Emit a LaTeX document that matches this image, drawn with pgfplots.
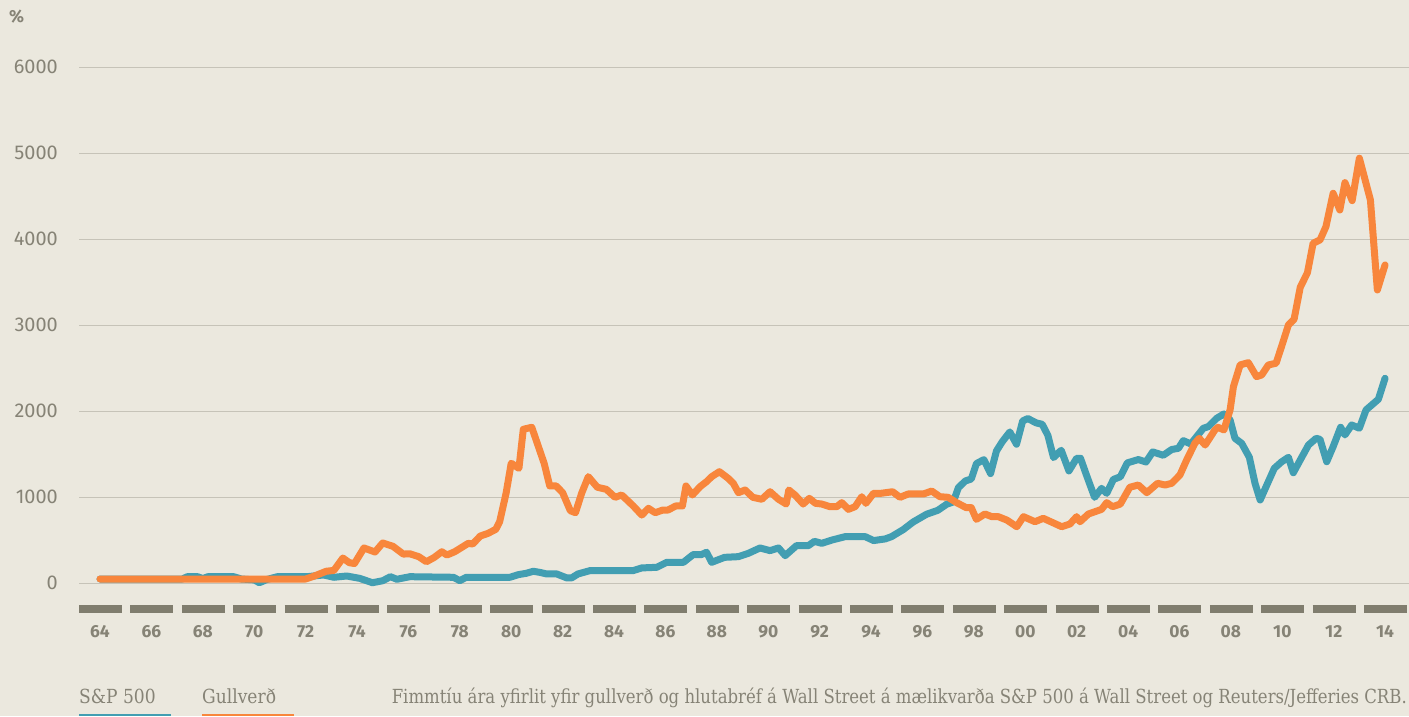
\documentclass[border=0pt]{standalone}
\usepackage{fontspec}
\usepackage{graphicx}
\usepackage{pgfplots}
\pgfplotsset{compat=1.18}
\newfontfamily\tickfont{Fira Sans}
\newfontfamily\slab{DejaVu Serif}
\definecolor{bgc}{RGB}{235,232,222}
\definecolor{gridc}{RGB}{198,195,184}
\definecolor{dashc}{RGB}{128,125,110}
\definecolor{tickc}{RGB}{134,131,118}
\definecolor{tealc}{RGB}{66,158,178}
\definecolor{orangec}{RGB}{248,134,60}

\pgfplotstableread{
x y
1964.0 50
1965 50
1966 50
1967 50
1968 50
1969 50
1970 50
1971 50
1972.0 50
1972.3 80
1972.8 140
1973.1 150
1973.45 294
1973.7 240
1973.9 230
1974.27 411
1974.7 364
1975.0 469
1975.4 430
1975.8 340
1976.06 343
1976.4 310
1976.7 251
1977.0 300
1977.3 367
1977.5 329
1977.8 367
1978.33 465
1978.5 457
1978.8 550
1979.1 581
1979.4 628
1979.55 716
1979.8 1047
1980.0 1396
1980.3 1337
1980.47 1791
1980.8 1814
1981.28 1396
1981.5 1132
1981.75 1132
1982.0 1054
1982.3 844
1982.5 821
1982.74 1047
1983.0 1240
1983.35 1117
1983.7 1093
1984.04 1000
1984.3 1027
1984.75 899
1985.08 794
1985.34 872
1985.6 821
1985.9 852
1986.1 852
1986.4 899
1986.66 899
1986.8 1132
1987.05 1027
1987.35 1124
1987.6 1182
1987.8 1240
1988.1 1298
1988.44 1221
1988.64 1163
1988.84 1054
1989.1 1085
1989.4 1000
1989.75 977
1990.07 1065
1990.4 977
1990.7 922
1990.8 1085
1991.04 1027
1991.36 922
1991.6 988
1991.84 930
1992.08 922
1992.4 891
1992.67 891
1992.86 938
1993.12 860
1993.38 891
1993.64 1007
1993.8 930
1994.1 1047
1994.4 1047
1994.84 1065
1995.13 1000
1995.45 1039
1996.04 1039
1996.36 1073
1996.68 1007
1997.0 1000
1997.33 938
1997.7 880
1997.9 880
1998.1 744
1998.43 806
1998.7 775
1998.95 775
1999.28 736
1999.67 658
1999.93 775
2000.38 716
2000.7 756
2001.42 658
2001.74 690
2002.0 775
2002.13 716
2002.46 806
2002.97 860
2003.17 938
2003.4 891
2003.7 922
2004.07 1117
2004.4 1143
2004.73 1054
2005.15 1163
2005.44 1143
2005.7 1163
2006.02 1260
2006.28 1434
2006.6 1628
2006.77 1686
2007.0 1608
2007.38 1783
2007.5 1814
2007.73 1783
2007.97 2016
2008.1 2287
2008.36 2539
2008.68 2566
2009.0 2403
2009.2 2423
2009.46 2539
2009.76 2559
2009.98 2760
2010.24 3004
2010.46 3070
2010.7 3442
2010.98 3612
2011.2 3954
2011.47 3993
2011.7 4147
2011.98 4535
2012.24 4341
2012.44 4659
2012.72 4450
2013.0 4943
2013.43 4458
2013.7 3411
2014.0 3702
}\gold

\pgfplotstableread{
x y
1964 50
1967.2 50
1967.4 77
1967.8 77
1968.0 55
1968.2 77
1969.2 77
1969.5 50
1970.0 40
1970.2 7
1970.5 45
1970.9 77
1972.05 77
1972.7 97
1973.1 70
1973.6 85
1974.1 58
1974.6 7
1975.0 30
1975.3 77
1975.55 47
1976.06 77
1977.75 70
1978.0 31
1978.25 70
1979.95 70
1980.28 101
1980.58 116
1980.86 140
1981.1 128
1981.38 109
1981.77 109
1982.16 63
1982.35 63
1982.6 109
1983.07 148
1984.75 148
1985.08 179
1985.66 186
1986.05 244
1986.7 244
1987.08 334
1987.4 334
1987.6 361
1987.8 244
1988.3 302
1988.84 310
1989.23 349
1989.68 411
1990.07 380
1990.4 411
1990.66 322
1991.1 438
1991.56 438
1991.8 488
1992.08 465
1992.5 505
1993.0 543
1993.77 543
1994.1 497
1994.55 516
1994.8 543
1995.25 624
1995.64 713
1996.16 803
1996.6 849
1996.94 919
1997.2 946
1997.4 1113
1997.67 1190
1997.9 1213
1998.1 1392
1998.39 1438
1998.65 1276
1998.88 1539
1999.1 1644
1999.4 1760
1999.66 1617
1999.9 1888
2000.1 1916
2000.43 1865
2000.66 1849
2000.88 1721
2001.1 1462
2001.4 1547
2001.7 1307
2002.0 1454
2002.15 1454
2002.38 1260
2002.7 1000
2002.97 1104
2003.17 1046
2003.43 1208
2003.7 1239
2003.97 1400
2004.4 1439
2004.7 1411
2004.96 1528
2005.37 1489
2005.7 1556
2005.96 1570
2006.15 1659
2006.44 1620
2006.93 1803
2007.12 1821
2007.45 1919
2007.73 1969
2007.97 1899
2008.16 1686
2008.42 1628
2008.72 1465
2008.94 1163
2009.14 969
2009.4 1143
2009.69 1337
2009.98 1414
2010.24 1465
2010.43 1286
2010.7 1434
2011.02 1608
2011.32 1686
2011.47 1674
2011.73 1414
2011.98 1589
2012.27 1814
2012.44 1725
2012.7 1841
2013.0 1803
2013.26 2016
2013.74 2140
2014.0 2384
}\spx

\begin{document}
\begin{tikzpicture}[x=1bp,y=1bp]
\fill[bgc] (0,0) rectangle (1409,-716);
\begin{axis}[
  at={(79bp,-609.1bp)}, anchor=south west,
  scale only axis, width=1330bp, height=541.8bp,
  xmin=1963.183, xmax=2014.934, ymin=-300, ymax=6000,
  axis lines*=left,
  y axis line style={draw=none},
  x axis line style={-, draw=dashc, line width=8bp, dash pattern=on 43bp off 8.4bp},
  major tick length=0pt,
  xtick={1964,1966,...,2014},
  xticklabels={64,66,68,70,72,74,76,78,80,82,84,86,88,90,92,94,96,98,00,02,04,06,08,10,12,14},
  ytick={0,1000,...,6000},
  yticklabels={0,1000,2000,3000,4000,5000,6000},
  /pgf/number format/assume math mode=true,
  ymajorgrids,
  grid style={draw=gridc, line width=1.6bp},
  xticklabel style={font=\tickfont\bfseries\fontsize{17.5}{19}\selectfont, text=tickc, anchor=north, inner sep=0pt, yshift=-16.5bp},
  yticklabel style={font=\tickfont\fontsize{20}{22}\selectfont, text=tickc, anchor=east, inner sep=0pt, xshift=-21bp},
  clip=false,
]
\addplot[tealc, line width=7bp, line join=round, line cap=round] table[x=x,y=y] {\spx};
\addplot[orangec, line width=7bp, line join=round, line cap=round] table[x=x,y=y] {\gold};
\end{axis}
\node[anchor=base west, inner sep=0pt, text=tickc, font=\tickfont\bfseries\fontsize{17.5}{19}\selectfont] at (9,-23) {\%};
\node[anchor=base west, inner sep=0pt, text=tickc, font=\slab\fontsize{19.5}{22}\selectfont] at (79,-703) {\scalebox{0.88}[1]{S\&P 500}};
\fill[tealc] (79,-713.5) rectangle (171,-716);
\node[anchor=base west, inner sep=0pt, text=tickc, font=\slab\fontsize{19.5}{22}\selectfont] at (202,-703) {\scalebox{0.88}[1]{Gullverð}};
\fill[orangec] (202,-713.5) rectangle (294,-716);
\node[anchor=base east, inner sep=0pt, text=tickc, font=\slab\fontsize{19.5}{22}\selectfont] at (1407,-703) {\resizebox{1015bp}{\height}{Fimmtíu ára yfirlit yfir gullverð og hlutabréf á Wall Street á mælikvarða S\&P 500 á Wall Street og Reuters/Jefferies CRB.}};
\pgfresetboundingbox
\path (0,0) rectangle (1409,-716);
\end{tikzpicture}
\end{document}
